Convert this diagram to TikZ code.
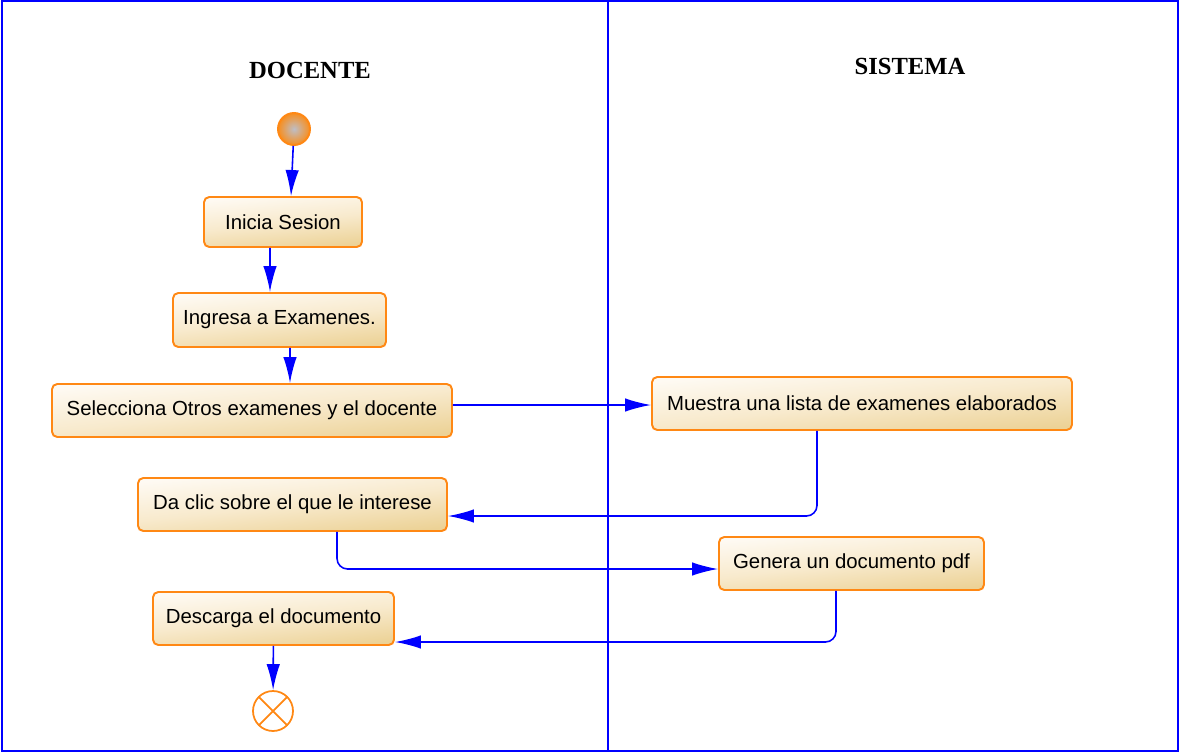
\documentclass[tikz,border=0pt]{standalone}
\usepackage{fontspec}
\setmainfont{Liberation Sans}
\newfontfamily\lanefont{Liberation Serif}
\usetikzlibrary{arrows.meta, positioning, calc}

\definecolor{boxlight}{RGB}{254,250,243}
\definecolor{boxmid}{RGB}{248,234,205}
\definecolor{boxdark}{RGB}{236,210,150}
\definecolor{boxline}{RGB}{255,136,20}
\definecolor{startgray}{RGB}{190,190,198}
\definecolor{startorange}{RGB}{248,142,30}

\begin{document}
\begin{tikzpicture}[
    activity/.style={rectangle, draw=boxline, line width=1.1pt, rounded corners=3pt, top color=boxlight, bottom color=boxdark, middle color=boxmid, shading angle=6, minimum height=1.06cm, align=center, font=\fontsize{11.6}{14}\selectfont},
    startnode/.style={circle, draw=boxline, line width=1.1pt, inner color=startgray, outer color=startorange, minimum size=0.64cm, inner sep=0pt},
    endnode/.style={circle, draw=boxline, line width=1pt, fill=white, minimum size=0.8cm, inner sep=0pt, path picture={\draw[boxline, line width=1pt] (path picture bounding box.north west) -- (path picture bounding box.south east) (path picture bounding box.north east) -- (path picture bounding box.south west);}},
    lanetitle/.style={font=\lanefont\bfseries\fontsize{14}{16}\selectfont},
    lane/.style={draw=blue, line width=1.2pt},
    flow/.style={-{Latex[length=5.2mm, width=2.7mm]}, draw=blue, line width=0.9pt, rounded corners=6pt}
]
\useasboundingbox (0,0) rectangle (23.6,-15.06);
\draw[lane] (0.04,-0.02) rectangle (23.56,-15.02);
\draw[lane] (12.16,-0.02) -- (12.16,-15.02);

\node[lanetitle] (docente) at (6.2,-1.40) {DOCENTE};
\node[lanetitle] (sistema) at (18.2,-1.32) {SISTEMA};

\node[startnode] (inicio) at (5.88,-2.58) {};
\node[activity, minimum width=3.16cm, minimum height=1.0cm] (sesion) at (5.66,-4.44) {Inicia Sesion};
\node[activity, minimum width=4.26cm, minimum height=1.08cm] (ingresa) at (5.59,-6.40) {Ingresa a Examenes.};
\node[activity, minimum width=8.0cm] (selecciona) at (5.04,-8.21) {Selecciona Otros examenes y el docente};
\node[activity, minimum width=8.4cm] (muestra) at (17.24,-8.07) {Muestra una lista de examenes elaborados};
\node[activity, minimum width=6.18cm] (clic) at (5.85,-10.09) {Da clic sobre el que le interese};
\node[activity, minimum width=5.3cm] (genera) at (17.03,-11.27) {Genera un documento pdf};
\node[activity, minimum width=4.82cm] (descarga) at (5.47,-12.37) {Descarga el documento};
\node[endnode] (fin) at (5.46,-14.22) {};

\draw[flow] (inicio) -- ([xshift=0.16cm]sesion.north);
\draw[flow] ([xshift=-0.26cm]sesion.south) -- ([xshift=-0.19cm]ingresa.north);
\draw[flow] ([xshift=0.21cm]ingresa.south) -- ([xshift=0.76cm]selecciona.north);
\draw[flow] ([yshift=0.11cm]selecciona.east) -- ([yshift=-0.03cm]muestra.west);
\draw[flow] ([xshift=-0.9cm]muestra.south) |- ([yshift=-0.23cm]clic.east);
\draw[flow] ([xshift=0.89cm]clic.south) |- ([yshift=-0.11cm]genera.west);
\draw[flow] ([xshift=-0.31cm]genera.south) |- ([yshift=-0.47cm]descarga.east);
\draw[flow] (descarga) -- (fin);
\end{tikzpicture}
\end{document}
